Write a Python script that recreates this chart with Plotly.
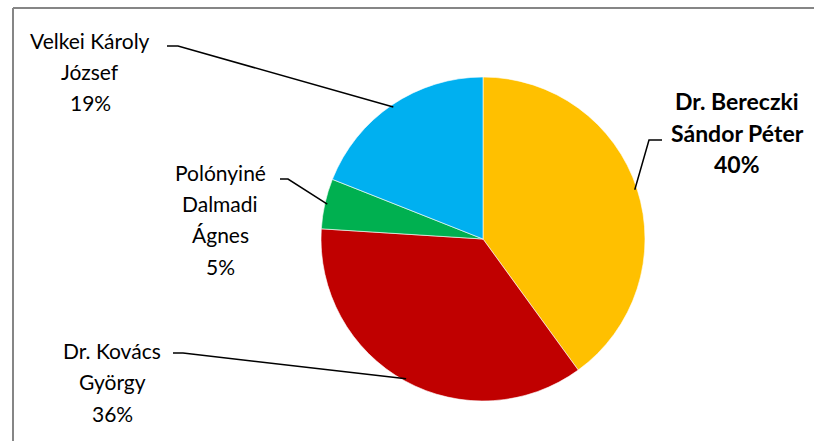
import math
import plotly.graph_objects as go

# ---- data ----
names = ["Dr. Bereczki Sándor Péter", "Dr. Kovács György", "Polónyiné Dalmadi Ágnes", "Velkei Károly József"]
label_lines = [["Dr. Bereczki", "Sándor Péter", "40%"],
               ["Dr. Kovács", "György", "36%"],
               ["Polónyiné", "Dalmadi", "Ágnes", "5%"],
               ["Velkei Károly", "József", "19%"]]
values = [40, 36, 5, 19]
colors = ["#FFC000", "#C00000", "#00B050", "#00B0F0"]
bold = [True, False, False, False]

# ---- layout (pixels) ----
W, H = 814, 441
cx, cy, R = 483, 239, 162
# label block: (center x, first line y center, leader elbow x, elbow y, horizontal end x)
label_pos = [(737, 101, 649, 140, 662),
             (112, 350, 183, 353, 173),
             (220, 172, 288, 179, 280),
             (90, 40, 178, 46, 167)]
LINE_H = 31.5
FONT = "Lato"
FS = 21
FS_BOLD = 23

def px(x):
    return x / W

def py(y):
    return 1 - y / H

fig = go.Figure(go.Pie(
    labels=names, values=values, sort=False, direction="clockwise", rotation=0,
    marker=dict(colors=colors, line=dict(color="white", width=0.6)),
    textinfo="none", hoverinfo="label+percent", showlegend=False,
    domain=dict(x=[px(cx - R), px(cx + R)], y=[py(cy + R), py(cy - R)]),
))

annotations = []
shapes = []
total = sum(values)
cum = 0
for i, v in enumerate(values):
    mid = (cum + v / 2) / total * 2 * math.pi
    cum += v
    ax = cx + R * 0.985 * math.sin(mid)
    ay = cy - R * 0.985 * math.cos(mid)
    lx, ly, ex, ey, hx = label_pos[i]
    for j, t in enumerate(label_lines[i]):
        txt = f"<b>{t}</b>" if bold[i] else t
        annotations.append(dict(
            x=px(lx), y=py(ly + j * LINE_H), xref="paper", yref="paper",
            text=txt, showarrow=False, xanchor="center", yanchor="middle",
            font=dict(family=FONT, size=FS_BOLD if bold[i] else FS, color="#000000")))
    shapes.append(dict(type="path", xref="paper", yref="paper",
                       path=f"M {px(hx)} {py(ey)} L {px(ex)} {py(ey)} L {px(ax)} {py(ay)}",
                       line=dict(color="#000000", width=1.5)))

# chart-area border (left and top only visible)
shapes.append(dict(type="line", xref="paper", yref="paper",
                   x0=px(13), y0=py(8), x1=px(814), y1=py(8),
                   line=dict(color="#868686", width=2)))
shapes.append(dict(type="line", xref="paper", yref="paper",
                   x0=px(13), y0=py(8), x1=px(13), y1=py(441),
                   line=dict(color="#868686", width=2)))

fig.update_layout(
    width=W, height=H, margin=dict(l=0, r=0, t=0, b=0),
    paper_bgcolor="white", plot_bgcolor="white",
    annotations=annotations, shapes=shapes,
)
fig.write_html("out.html", config={"displayModeBar": False},
               post_script="document.body.style.margin='0';document.body.style.overflow='hidden';")
